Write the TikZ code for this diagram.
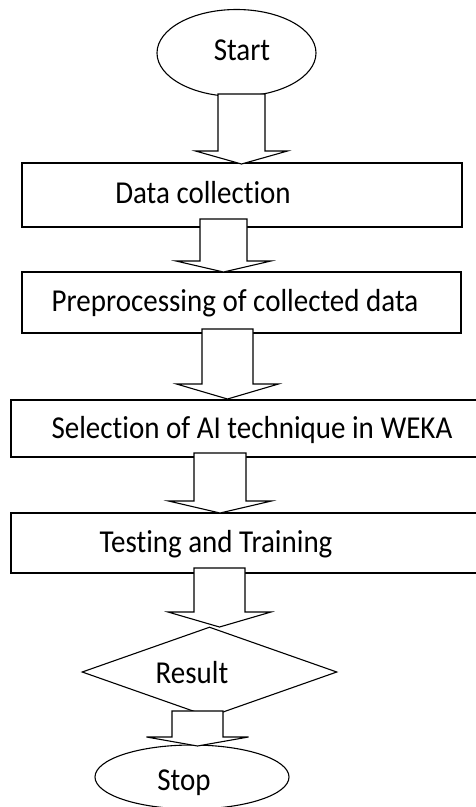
\documentclass[tikz,border=0pt]{standalone}
\usepackage{fontspec}
\setmainfont{Carlito}[Ligatures={NoCommon}]
\usetikzlibrary{shapes.geometric}
\tikzset{
  ln/.style={line width=1.1pt, draw=black},
  boxnode/.style={ln, rectangle, inner sep=0pt},
  ovalnode/.style={ln, ellipse, inner sep=0pt},
  decnode/.style={ln, diamond, inner sep=0pt},
  lbl/.style={anchor=base, inner sep=0pt, font=\fontsize{29}{34}\selectfont},
  barrow/.style={ln, fill=white, line join=miter},
}
% name, centre x, top y, head y, tip y, half shaft, half head
\newcommand\blockarr[7]{%
  \coordinate (#1-top) at (#2,#3);
  \coordinate (#1-tip) at (#2,#5);
  \draw[barrow] (#2-#6,#3) -- (#2-#6,#4) -- (#2-#7,#4) -- (#1-tip)
     -- (#2+#7,#4) -- (#2+#6,#4) -- (#2+#6,#3) -- cycle;
}
\newcommand\tx[1]{\scalebox{1}[1.1]{#1}}
\begin{document}
\begin{tikzpicture}[x=1pt,y=-1pt]
\useasboundingbox (0,0) rectangle (475,807);
\fill[white] (0,0) rectangle (475,807);
% shapes
\node[ovalnode, minimum width=159pt, minimum height=87pt] (start) at (236.5,53) {};
\node[boxnode, minimum width=440pt, minimum height=64pt] (b1) at (242,195) {};
\node[boxnode, minimum width=439pt, minimum height=61pt] (b2) at (241.5,302.5) {};
\node[boxnode, minimum width=470pt, minimum height=57pt] (b3) at (246,428.5) {};
\node[boxnode, minimum width=470pt, minimum height=60pt] (b4) at (246,543) {};
\node[decnode, minimum width=255pt, minimum height=90pt] (res) at (209.5,672) {};
\node[ovalnode, minimum width=194pt, minimum height=64pt] (stop) at (192,777) {};
% block arrows
\blockarr{a1}{241.5}{94}{151}{164}{23.5}{46}
\blockarr{a2}{223.5}{219}{261}{272}{23.5}{47.5}
\blockarr{a3}{227.5}{329}{384}{399}{25.5}{51}
\blockarr{a4}{220}{453}{501}{513}{26}{51.5}
\blockarr{a5}{219.5}{568}{612}{627}{25.5}{51.5}
\blockarr{a6}{197.5}{711}{737}{746}{25.5}{51}
% labels
\node[lbl] (tstart) at (242,60) {\tx{Start}};
\node[lbl] (t1) at (203,203) {\tx{Data collection}};
\node[lbl] (t2) at (235,311) {\tx{Preprocessing of collected data}};
\node[lbl] (t3) at (252,438) {\tx{Selection of AI technique in WEKA}};
\node[lbl] (t4) at (216,552) {\tx{Testing and Training}};
\node[lbl] (tres) at (192,683) {\tx{Result}};
\node[lbl] (tstop) at (184,790) {\tx{Stop}};
\end{tikzpicture}
\end{document}
